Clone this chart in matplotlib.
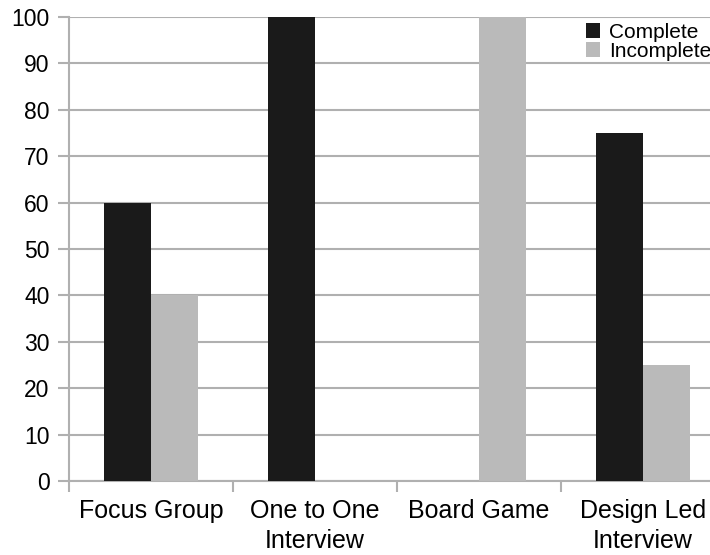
import numpy as np
import matplotlib.pyplot as plt

plt.rcParams['font.family'] = ['Liberation Sans', 'DejaVu Sans']

categories = ['Focus Group', 'One to One\nInterview', 'Board Game', 'Design Led\nInterview']
complete = [60, 100, 0, 75]
incomplete = [40, 0, 100, 25]

fig = plt.figure(figsize=(7.1, 5.55), dpi=100)
ax = fig.add_axes([0.0972, 0.1333, 0.924, 0.836])

x = np.arange(len(categories))
w = 0.284
ax.bar(x - w / 2, complete, w, color='#1a1a1a', label='Complete', zorder=3)
ax.bar(x + w / 2, incomplete, w, color='#bababa', label='Incomplete', zorder=3)

ax.set_xlim(-0.5, len(categories) - 0.5)
ax.set_ylim(0, 100)
ax.set_yticks(range(0, 101, 10))
ax.yaxis.grid(True, color='#b0b0b0', linewidth=1.5, zorder=0)
ax.set_axisbelow(True)

ax.set_xticks(x)
ax.set_xticklabels(categories, fontsize=18, linespacing=1.3)
ax.set_xticks(np.arange(-0.5, len(categories), 1), minor=True)
ax.tick_params(axis='x', which='major', length=0, pad=13)
ax.tick_params(axis='x', which='minor', length=8, width=1.5, color='#b0b0b0')
ax.tick_params(axis='y', length=8, width=1.5, color='#b0b0b0', labelsize=16.5, pad=6)

for s in ['top', 'right']:
    ax.spines[s].set_visible(False)
for s in ['left', 'bottom']:
    ax.spines[s].set_color('#b0b0b0')
    ax.spines[s].set_linewidth(1.5)

ax.legend(loc='upper left', bbox_to_anchor=(0.81, 0.978), bbox_transform=fig.transFigure,
          frameon=False, fontsize=15, handlelength=0.7, handleheight=0.7,
          handletextpad=0.45, labelspacing=0.0, borderpad=0)

fig.savefig('out.png', dpi=100)
